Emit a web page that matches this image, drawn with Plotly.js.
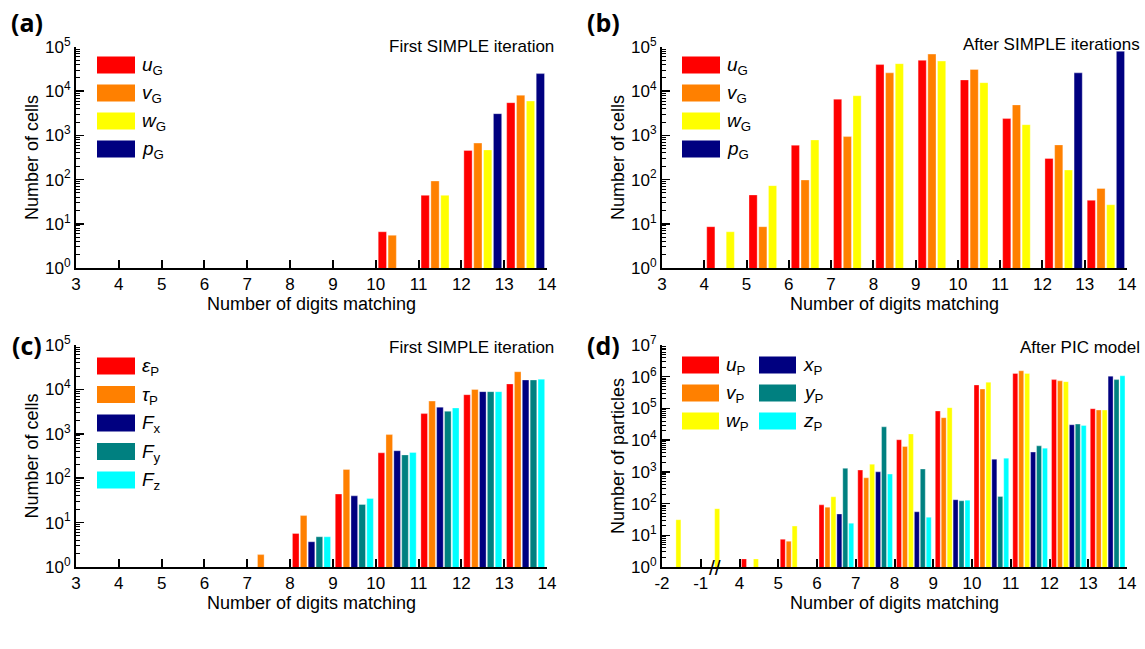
<!DOCTYPE html>
<html><head><meta charset="utf-8">
<script src="https://cdn.plot.ly/plotly-3.0.1.min.js"></script>
<style>html,body{margin:0;padding:0;background:#fff}</style>
</head><body><div id="chart" style="width:1145px;height:649px"></div>
<script>
// ---------- DATA ----------
const digitsABC = [3,4,5,6,7,8,9,10,11,12,13];
const tickDigitsABC = [3,4,5,6,7,8,9,10,11,12,13,14];
const digitsD = [-2,-1,4,5,6,7,8,9,10,11,12,13];
const tickDigitsD = [-2,-1,4,5,6,7,8,9,10,11,12,13,14];

// (a) First SIMPLE iteration
const a_uG = [null,null,null,null,null,null,null,6.6,44,455,5500];
const a_vG = [null,null,null,null,null,null,null,5.5,93,670,8100];
const a_wG = [null,null,null,null,null,null,null,null,44,470,6000];
const a_pG = [null,null,null,null,null,null,null,null,null,3100,25000];

// (b) After SIMPLE iterations
const b_uG = [null,8.6,45,600,6600,40000,50000,18000,2400,300,34];
const b_vG = [null,null,8.6,98,940,26000,69000,31000,4900,610,63];
const b_wG = [null,6.6,73,790,7900,42000,48000,15600,1750,165,27];
const b_pG = [null,null,null,null,null,null,null,null,null,26000,80000];

// (c) First SIMPLE iteration
const c_epsP = [null,null,null,null,null,5.7,44,373,2850,7600,13300];
const c_tauP = [null,null,null,null,1.9,14.4,158,960,5450,10000,25000];
const c_Fx   = [null,null,null,null,null,3.7,40,415,3980,8900,16300];
const c_Fy   = [null,null,null,null,null,4.8,25.6,335,3220,8900,16300];
const c_Fz   = [null,null,null,null,null,4.8,35,380,3820,8900,17000];

// (d) After PIC model
const d_uP = [null,null,1.8,7.5,91,1140,10300,83000,550000,1270000,810000,98000];
const d_vP = [null,null,null,6.5,77,650,6300,51000,410000,1540000,740000,89000];
const d_wP = [31,69,1.8,19.5,164,1750,15700,106000,670000,1270000,700000,89000];
const d_xP = [null,null,null,null,47,1000,55,132,2500,4200,30500,1040000];
const d_yP = [null,null,null,null,1290,26300,1230,122,168,6600,32000,810000];
const d_zP = [null,null,null,null,24,850,37,128,2700,5600,29000,1070000];

const seriesA = [
  {name:'<i>u</i><sub>G</sub>', y:a_uG, color:'#FF0000'},
  {name:'<i>v</i><sub>G</sub>', y:a_vG, color:'#FF8000'},
  {name:'<i>w</i><sub>G</sub>', y:a_wG, color:'#FFFF00'},
  {name:'<i>p</i><sub>G</sub>', y:a_pG, color:'#000080'}];
const seriesB = [
  {name:'<i>u</i><sub>G</sub>', y:b_uG, color:'#FF0000'},
  {name:'<i>v</i><sub>G</sub>', y:b_vG, color:'#FF8000'},
  {name:'<i>w</i><sub>G</sub>', y:b_wG, color:'#FFFF00'},
  {name:'<i>p</i><sub>G</sub>', y:b_pG, color:'#000080'}];
const seriesC = [
  {name:'<i>ε</i><sub>P</sub>', y:c_epsP, color:'#FF0000'},
  {name:'<i>τ</i><sub>P</sub>', y:c_tauP, color:'#FF8000'},
  {name:'<i>F</i><sub>x</sub>', y:c_Fx, color:'#000080'},
  {name:'<i>F</i><sub>y</sub>', y:c_Fy, color:'#008080'},
  {name:'<i>F</i><sub>z</sub>', y:c_Fz, color:'#00FFFF'}];
const seriesD = [
  {name:'<i>u</i><sub>P</sub>', y:d_uP, color:'#FF0000'},
  {name:'<i>v</i><sub>P</sub>', y:d_vP, color:'#FF8000'},
  {name:'<i>w</i><sub>P</sub>', y:d_wP, color:'#FFFF00'},
  {name:'<i>x</i><sub>P</sub>', y:d_xP, color:'#000080'},
  {name:'<i>y</i><sub>P</sub>', y:d_yP, color:'#008080'},
  {name:'<i>z</i><sub>P</sub>', y:d_zP, color:'#00FFFF'}];

// ---------- LAYOUT HELPERS ----------
const W = 1145, H = 649;
const FONT = 'Liberation Sans, Arial, sans-serif';
const px = x => x / W;
const py = y => 1 - y / H;

// panel rectangles in pixels [left, right, top, bottom]
const P = {
  a: [76, 547, 47, 268],
  b: [662, 1127, 47, 268],
  c: [76, 547, 345, 567],
  d: [662, 1127, 345, 567]
};

const traces = [];
function addSeries(series, xs, xa, ya) {
  series.forEach(s => {
    traces.push({type:'bar', x: xs, y: s.y, xaxis: xa, yaxis: ya, name: s.name,
      marker:{color:s.color, line:{color:'rgba(255,255,255,0.55)', width:0.6}},
      showlegend:false, hoverinfo:'x+y'});
  });
}
const xABC = digitsABC.map(d => d + 0.5);
const xD = digitsD.map((d, i) => i + 0.5);
addSeries(seriesA, xABC, 'x', 'y');
addSeries(seriesB, xABC, 'x2', 'y2');
addSeries(seriesC, xABC, 'x3', 'y3');
addSeries(seriesD, xD, 'x4', 'y4');

function minorVals(maxExp) {
  const v = [];
  for (let e = 0; e < maxExp; e++) for (let m = 2; m <= 9; m++) v.push(m * Math.pow(10, e));
  return v;
}
function yAxis(rect, maxExp, title, anchor) {
  const vals = [], txt = [];
  for (let e = 0; e <= maxExp; e++) { vals.push(Math.pow(10, e)); txt.push('10<sup>' + e + '</sup>'); }
  return {
    domain:[py(rect[3]), py(rect[2])], anchor: anchor, type:'log', range:[0, maxExp],
    tickmode:'array', tickvals: vals, ticktext: txt,
    ticks:'inside', ticklen:8, tickwidth:1.5, tickcolor:'#000',
    minor:{tickmode:'array', tickvals:minorVals(maxExp), ticks:'inside', ticklen:4, tickwidth:1, tickcolor:'#000', showgrid:false},
    showline:true, linewidth:2, linecolor:'#000', showgrid:false, zeroline:false,
    tickfont:{family:FONT, size:17, color:'#000'},
    title:{text:title, font:{family:FONT, size:18, color:'#000'}, standoff:2},
    fixedrange:true
  };
}
function xAxis(rect, range, tickvals, ticktext, anchor) {
  return {
    domain:[px(rect[0]), px(rect[1])], anchor: anchor, range: range,
    tickmode:'array', tickvals: tickvals, ticktext: ticktext,
    ticks:'inside', ticklen:8, tickwidth:2, tickcolor:'#000',
    showline:true, linewidth:2, linecolor:'#000', showgrid:false, zeroline:false,
    tickfont:{family:FONT, size:17, color:'#000'},
    title:{text:'Number of digits matching', font:{family:FONT, size:18, color:'#000'}, standoff:4},
    fixedrange:true
  };
}

const layout = {
  width:W, height:H, margin:{l:0, r:0, t:0, b:0},
  paper_bgcolor:'#fff', plot_bgcolor:'rgba(0,0,0,0)',
  barmode:'group', bargap:0.08, bargroupgap:0.16,
  showlegend:false,
  xaxis:  xAxis(P.a, [3,14], tickDigitsABC, tickDigitsABC.map(String), 'y'),
  yaxis:  yAxis(P.a, 5, 'Number of cells', 'x'),
  xaxis2: xAxis(P.b, [3,14], tickDigitsABC, tickDigitsABC.map(String), 'y2'),
  yaxis2: yAxis(P.b, 5, 'Number of cells', 'x2'),
  xaxis3: xAxis(P.c, [3,14], tickDigitsABC, tickDigitsABC.map(String), 'y3'),
  yaxis3: yAxis(P.c, 5, 'Number of cells', 'x3'),
  xaxis4: xAxis(P.d, [0, tickDigitsD.length - 1], tickDigitsD.map((d, i) => i), tickDigitsD.map(String), 'y4'),
  yaxis4: yAxis(P.d, 7, 'Number of particles', 'x4'),
  annotations: [], shapes: []
};

const ann = layout.annotations, shp = layout.shapes;
// panel letters
[['(a)', 27, 22], ['(b)', 603, 22], ['(c)', 27, 345], ['(d)', 603, 345]].forEach(([t, x, y]) => {
  ann.push({text:'<b>' + t + '</b>', x:px(x), y:py(y), xref:'paper', yref:'paper', showarrow:false,
    xanchor:'center', yanchor:'middle', font:{family:'Open Sans, Liberation Sans, sans-serif', size:25, color:'#000'}});
});
// panel titles
[['First SIMPLE iteration', 556, 46], ['After SIMPLE iterations', 1142, 45],
 ['First SIMPLE iteration', 556, 347], ['After PIC model', 1142, 347]].forEach(([t, x, y]) => {
  ann.push({text:t, x:px(x), y:py(y), xref:'paper', yref:'paper', showarrow:false,
    xanchor:'right', yanchor:'middle', font:{family:FONT, size:17, color:'#000'}});
});
// legends
function legend(series, x0, y0, dy, boxW, boxH) {
  series.forEach((s, i) => {
    const yc = y0 + i * dy;
    shp.push({type:'rect', xref:'paper', yref:'paper', x0:px(x0), x1:px(x0 + boxW),
      y0:py(yc + boxH / 2), y1:py(yc - boxH / 2), fillcolor:s.color, line:{width:0}});
    ann.push({text:s.name, x:px(x0 + boxW + 5), y:py(yc + 1), xref:'paper', yref:'paper', showarrow:false,
      xanchor:'left', yanchor:'middle', font:{family:FONT, size:19, color:'#000'}});
  });
}
legend(seriesA, 97, 65, 28, 38, 17);
legend(seriesB, 682, 65, 28, 38, 17);
legend(seriesC, 97, 366, 28.5, 38, 17);
legend(seriesD.slice(0, 3), 682, 365, 28, 37, 17);
legend(seriesD.slice(3), 759, 365, 28, 37, 17);

// axis break marker on (d)
ann.push({text:'//', x:1.37, y:0, xref:'x4', yref:'y4 domain', showarrow:false,
  xanchor:'center', yanchor:'middle', font:{family:FONT, size:21, color:'#000'}});

Plotly.newPlot('chart', traces, layout, {staticPlot:true, displayModeBar:false});
</script>
</body></html>
